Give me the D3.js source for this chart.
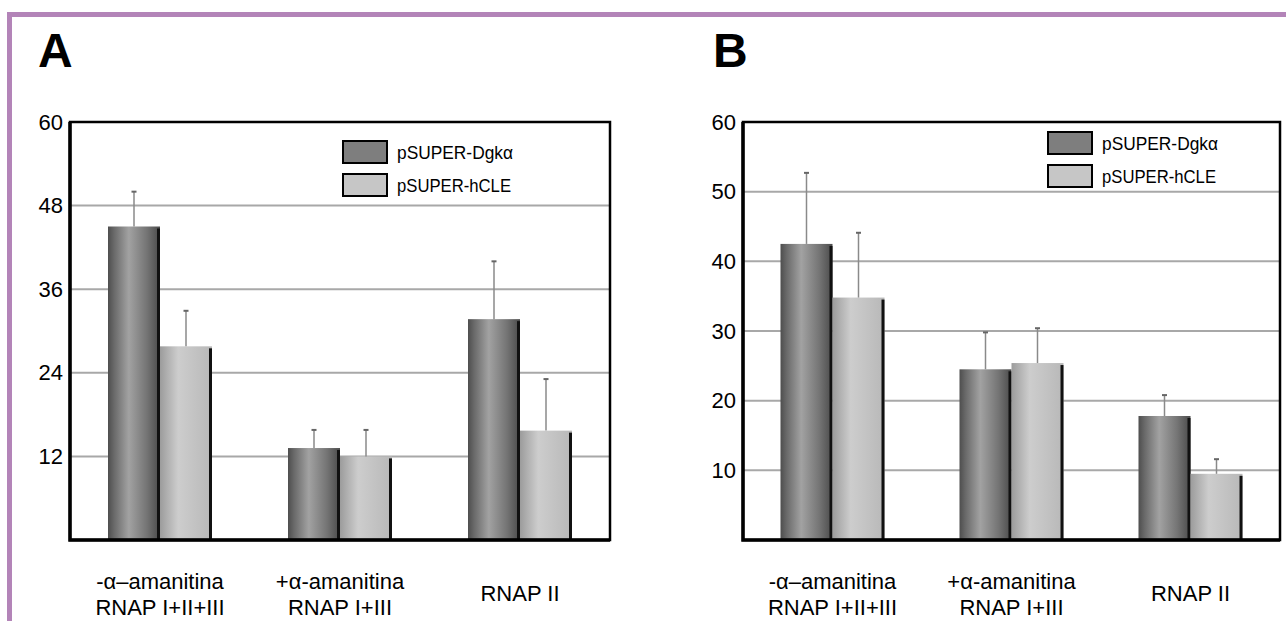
<!DOCTYPE html>
<html>
<head>
<meta charset="utf-8">
<script src="https://cdn.jsdelivr.net/npm/d3@7"></script>
<style>
  html, body { margin: 0; padding: 0; background: #fff; }
  svg { display: block; font-family: "Liberation Sans", Arial, Helvetica, sans-serif; }
</style>
</head>
<body>
<div id="chart"></div>
<script>
// data
const categories = [["-α–amanitina", "RNAP I+II+III"], ["+α-amanitina", "RNAP I+III"], ["RNAP II"]];
const seriesNames = ["pSUPER-Dgkα", "pSUPER-hCLE"];

const dgkA = [45.0, 13.2, 31.7];
const dgkAErr = [5.0, 2.6, 8.3];
const hcleA = [27.8, 12.0, 15.7];
const hcleAErr = [5.1, 3.8, 7.4];
const ticksA = [12, 24, 36, 48, 60];

const dgkB = [42.5, 24.5, 17.8];
const dgkBErr = [10.2, 5.3, 3.0];
const hcleB = [34.8, 25.4, 9.5];
const hcleBErr = [9.3, 5.0, 2.1];
const ticksB = [10, 20, 30, 40, 50, 60];

const width = 1286;
const height = 621;

const svg = d3
  .select("#chart")
  .append("svg")
  .attr("width", width)
  .attr("height", height)
  .attr("viewBox", [0, 0, width, height]);

// gradients for the shaded bars
const defs = svg.append("defs");
function gradient(id, stops) {
  const g = defs.append("linearGradient").attr("id", id)
    .attr("x1", "0%").attr("x2", "100%").attr("y1", "0%").attr("y2", "0%");
  stops.forEach(([o, c]) => g.append("stop").attr("offset", o).attr("stop-color", c));
}
gradient("gDark", [["0%", "#4e4e4e"], ["12%", "#6a6a6a"], ["40%", "#a2a2a2"], ["75%", "#747474"], ["100%", "#4a4a4a"]]);
gradient("gLight", [["0%", "#9c9c9c"], ["35%", "#cdcdcd"], ["100%", "#b8b8b8"]]);
const fills = ["url(#gDark)", "url(#gLight)"];
const swatch = ["#7e7e7e", "#c6c6c6"];

// purple frame
svg.append("rect").attr("x", 7).attr("y", 12).attr("width", width).attr("height", 5).attr("fill", "#b384b8");
svg.append("rect").attr("x", 7).attr("y", 12).attr("width", 5).attr("height", height).attr("fill", "#b384b8");

function panel(opts) {
  const { letter, letterX, left, right, ticks, series, errors, legendX, legendY } = opts;
  const top = 122, bottom = 540;
  const g = svg.append("g");

  const y = d3.scaleLinear().domain([0, 60]).range([bottom, top]);
  const x = d3.scaleBand().domain(d3.range(categories.length)).range([left, right]);
  const xs = d3.scaleBand().domain([0, 1]).range([-52, 52]);

  g.append("text")
    .attr("x", letterX).attr("y", 67)
    .attr("font-size", 48).attr("font-weight", "bold")
    .text(letter);

  // grid lines
  g.append("g")
    .selectAll("line")
    .data(ticks.filter((t) => t < 60))
    .join("line")
    .attr("x1", left).attr("x2", right)
    .attr("y1", (d) => y(d)).attr("y2", (d) => y(d))
    .attr("stroke", "#a8a8a8").attr("stroke-width", 2);

  // y axis labels
  const axis = g.append("g")
    .attr("transform", `translate(${left},0)`)
    .call(d3.axisLeft(y).tickValues(ticks).tickSize(0).tickPadding(7));
  axis.select(".domain").remove();
  axis.selectAll("text")
    .attr("font-size", 22).attr("fill", "#000")
    .attr("font-family", '"Liberation Sans", Arial, sans-serif');

  // bars
  const rows = [];
  series.forEach((vals, s) => vals.forEach((v, i) => rows.push({ i, s, v, e: errors[s][i] })));

  const bars = g.append("g").selectAll("g").data(rows).join("g");
  bars.append("rect")
    .attr("x", (d) => x(d.i) + x.bandwidth() / 2 + xs(d.s))
    .attr("y", (d) => y(d.v))
    .attr("width", xs.bandwidth())
    .attr("height", (d) => y(0) - y(d.v))
    .attr("fill", (d) => fills[d.s]);
  bars.append("line")
    .attr("x1", (d) => x(d.i) + x.bandwidth() / 2 + xs(d.s) + xs.bandwidth() - 1.5)
    .attr("x2", (d) => x(d.i) + x.bandwidth() / 2 + xs(d.s) + xs.bandwidth() - 1.5)
    .attr("y1", (d) => y(d.v) + 2)
    .attr("y2", y(0))
    .attr("stroke", "#111").attr("stroke-width", 3);

  // error bars (upper only)
  const cx = (d) => x(d.i) + x.bandwidth() / 2 + xs(d.s) + xs.bandwidth() / 2;
  bars.append("line")
    .attr("x1", cx).attr("x2", cx)
    .attr("y1", (d) => y(d.v)).attr("y2", (d) => y(d.v + d.e))
    .attr("stroke", "#8a8a8a").attr("stroke-width", 1.5);
  bars.append("line")
    .attr("x1", (d) => cx(d) - 2.5).attr("x2", (d) => cx(d) + 2.5)
    .attr("y1", (d) => y(d.v + d.e)).attr("y2", (d) => y(d.v + d.e))
    .attr("stroke", "#666").attr("stroke-width", 2);

  // frame
  g.append("rect")
    .attr("x", left).attr("y", top)
    .attr("width", right - left).attr("height", bottom - top)
    .attr("fill", "none").attr("stroke", "#000").attr("stroke-width", 2.5);
  g.append("path")
    .attr("d", `M${left},${top}V${bottom}H${right}`)
    .attr("fill", "none").attr("stroke", "#000").attr("stroke-width", 3.5);

  // category labels
  const labels = g.append("g").selectAll("text").data(categories).join("text")
    .attr("x", (d, i) => x(i) + x.bandwidth() / 2)
    .attr("text-anchor", "middle")
    .attr("font-size", 22);
  labels.each(function (d) {
    const t = d3.select(this);
    if (d.length === 2) {
      t.append("tspan").attr("x", t.attr("x")).attr("y", 589).text(d[0]);
      t.append("tspan").attr("x", t.attr("x")).attr("y", 615).text(d[1]);
    } else {
      t.append("tspan").attr("x", t.attr("x")).attr("y", 601).text(d[0]);
    }
  });

  // legend
  const leg = g.append("g").selectAll("g").data(seriesNames).join("g")
    .attr("transform", (d, i) => `translate(${legendX},${legendY + i * 33})`);
  leg.append("rect")
    .attr("width", 44).attr("height", 22)
    .attr("fill", (d, i) => swatch[i])
    .attr("stroke", "#000").attr("stroke-width", 2);
  leg.append("text")
    .attr("x", 54).attr("y", 18)
    .attr("font-size", 18)
    .attr("textLength", (d, i) => (i === 0 ? 116 : 114))
    .attr("lengthAdjust", "spacingAndGlyphs")
    .text((d) => d);
}

panel({
  letter: "A", letterX: 38, left: 70, right: 610,
  ticks: ticksA, series: [dgkA, hcleA], errors: [dgkAErr, hcleAErr],
  legendX: 343, legendY: 141
});

panel({
  letter: "B", letterX: 713, left: 743, right: 1280,
  ticks: ticksB, series: [dgkB, hcleB], errors: [dgkBErr, hcleBErr],
  legendX: 1048, legendY: 132
});
</script>
</body>
</html>
